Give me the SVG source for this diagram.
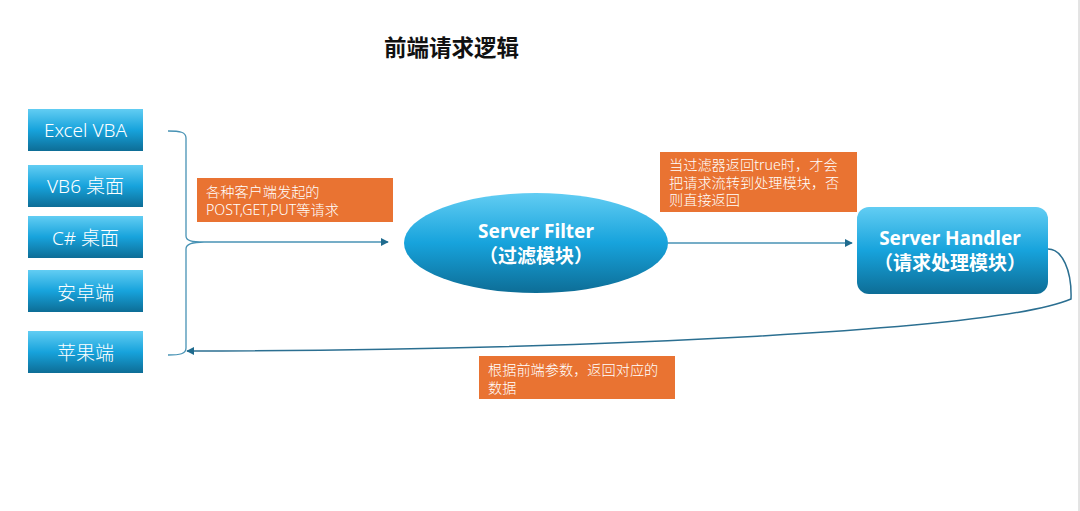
<svg xmlns="http://www.w3.org/2000/svg" width="1080" height="511" viewBox="0 0 1080 511">
<defs>
<linearGradient id="blue" x1="0" y1="0" x2="0" y2="1">
<stop offset="0" stop-color="#62cdf3"/>
<stop offset="0.5" stop-color="#17a3dc"/>
<stop offset="1" stop-color="#0d6d96"/>
</linearGradient>
<marker id="arr" viewBox="0 0 10 10" refX="9" refY="5" markerWidth="8" markerHeight="8" orient="auto-start-reverse" markerUnits="userSpaceOnUse">
<path d="M0,0 L10,5 L0,10 z" fill="#1f6b8e"/>
</marker>
<style>
.box{fill:url(#blue);}
.bt{font-family:"Noto Sans","Noto Sans CJK SC",sans-serif;font-size:19px;font-weight:300;fill:#ffffff;text-anchor:middle;}
.bb{font-family:"Noto Sans","Noto Sans CJK SC",sans-serif;font-size:19px;font-weight:bold;fill:#ffffff;text-anchor:middle;}
.lab{fill:#e97332;}
.lt{font-family:"Noto Sans","Noto Sans CJK SC",sans-serif;font-size:14.2px;font-weight:300;fill:#ffffff;}
.ln{fill:none;stroke:#4792b4;stroke-width:1.3;}
.ld{fill:none;stroke:#2b6f91;stroke-width:1.5;}
</style>
</defs>
<rect x="0" y="0" width="1080" height="511" fill="#ffffff"/>
<line x1="1079" y1="0" x2="1079" y2="511" stroke="#c8c8c8" stroke-width="1"/>
<text x="451.5" y="56" font-family="'Noto Sans CJK SC',sans-serif" font-size="22.5px" font-weight="bold" fill="#111111" text-anchor="middle">前端请求逻辑</text>

<g id="excel"><rect class="box" x="28" y="109" width="115" height="42"/><text class="bt" x="85.5" y="137">Excel VBA</text></g>
<g id="vb6"><rect class="box" x="28" y="165" width="115" height="42"/><text class="bt" x="85.5" y="193">VB6 桌面</text></g>
<g id="csharp"><rect class="box" x="28" y="216" width="115" height="42"/><text class="bt" x="85.5" y="245">C# 桌面</text></g>
<g id="android"><rect class="box" x="28" y="270" width="115" height="42"/><text class="bt" x="85.5" y="300">安卓端</text></g>
<g id="apple"><rect class="box" x="28" y="331" width="115" height="42"/><text class="bt" x="85.5" y="360">苹果端</text></g>

<g id="filter"><ellipse cx="536" cy="243" rx="132" ry="50" fill="url(#blue)"/>
<text class="bb" x="536" y="238">Server Filter</text><text class="bb" x="536" y="263">（过滤模块）</text></g>

<g id="handler"><rect x="857" y="207" width="191" height="87" rx="12" fill="url(#blue)"/>
<text class="bb" x="950" y="245">Server Handler</text><text class="bb" x="950" y="270">（请求处理模块）</text></g>

<g id="label1"><rect class="lab" x="197" y="178" width="196" height="44"/>
<text class="lt" x="206" y="197">各种客户端发起的</text><text class="lt" x="206" y="215">POST,GET,PUT等请求</text></g>

<g id="label2"><rect class="lab" x="660" y="152" width="197" height="60"/>
<text class="lt" x="669" y="170">当过滤器返回true时，才会</text><text class="lt" x="669" y="188">把请求流转到处理模块，否</text><text class="lt" x="669" y="205">则直接返回</text></g>

<g id="label3"><rect class="lab" x="479" y="356" width="196" height="43"/>
<text class="lt" x="488" y="375">根据前端参数，返回对应的</text><text class="lt" x="488" y="393">数据</text></g>

<g id="connectors">
<path class="ln" d="M168,131 C180,131 186,132 186,138 L186,236 C186,241 192,242 204,242 C192,242 186,244 186,249 L186,348 C186,354 180,355 168,355"/>
<path class="ln" d="M204,242 L388,242" marker-end="url(#arr)"/>
<path class="ln" d="M668,243 L852,243" marker-end="url(#arr)"/>
<path class="ld" d="M1048,249 C1062,249 1072,270 1071,299 C1000,330 600,350 187,351" marker-end="url(#arr)"/>
</g>
</svg>
